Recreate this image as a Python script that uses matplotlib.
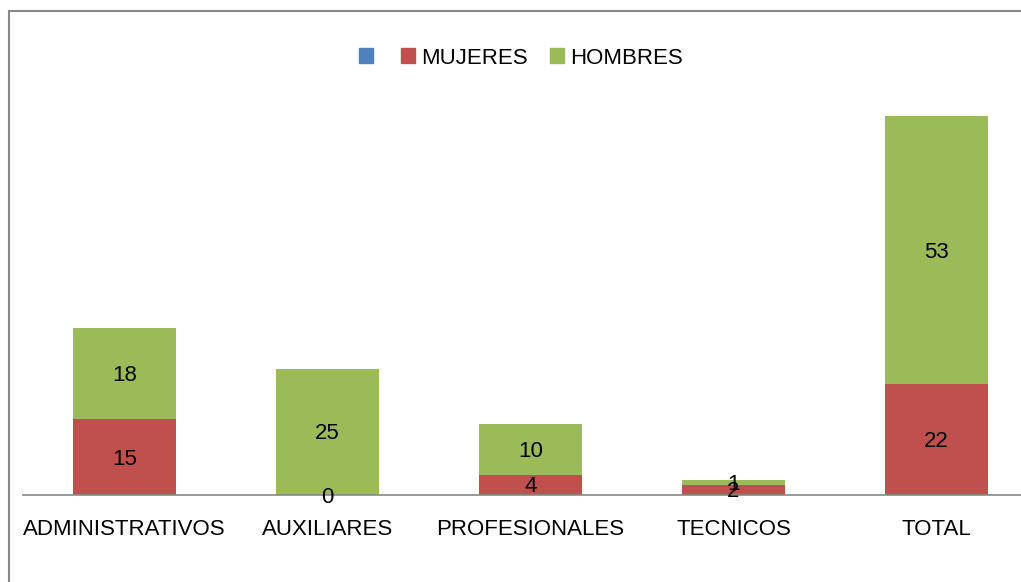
import matplotlib
matplotlib.use("Agg")
import matplotlib.pyplot as plt
from matplotlib.patches import Rectangle, Patch

categories = ["ADMINISTRATIVOS", "AUXILIARES", "PROFESIONALES", "TECNICOS", "TOTAL"]
mujeres = [15, 0, 4, 2, 22]
hombres = [18, 25, 10, 1, 53]

BLUE = "#4F81BD"
RED = "#C0504D"
GREEN = "#9BBB59"

plt.rcParams['font.family'] = ['Liberation Sans', 'DejaVu Sans']

fig = plt.figure(figsize=(10.21, 5.82), dpi=100)
ax = fig.add_axes([23/1021, 1 - 495/582, 1015/1021, 404/582])

x = list(range(len(categories)))
w = 0.51
ax.bar(x, mujeres, w, color=RED, label="MUJERES")
ax.bar(x, hombres, w, bottom=mujeres, color=GREEN, label="HOMBRES")

for i in x:
    ax.text(i, mujeres[i] / 2 - 0.4, str(mujeres[i]), ha="center", va="center", fontsize=16)
    ax.text(i, mujeres[i] + hombres[i] / 2 - 0.4, str(hombres[i]), ha="center", va="center", fontsize=16)

ax.set_xlim(-0.5, len(categories) - 0.5)
ax.set_ylim(0, 80)
ax.set_xticks(x)
ax.set_xticklabels(categories, fontsize=16)
ax.tick_params(axis="x", length=0, pad=17)
ax.set_yticks([])
for s in ["top", "right", "left"]:
    ax.spines[s].set_visible(False)
ax.spines["bottom"].set_color("#888888")
ax.spines["bottom"].set_linewidth(1.2)

handles = [Patch(color=BLUE), Patch(color=RED), Patch(color=GREEN)]
labels = ["", "MUJERES", "HOMBRES"]
fig.legend(handles, labels, loc="center", bbox_to_anchor=(521/1021, 1 - 58/582),
           ncol=3, frameon=False, fontsize=16, handlelength=0.63, handleheight=0.63,
           handletextpad=0.27, columnspacing=1.0)

fig.add_artist(Rectangle((9/1021, -0.1), 1.2, (582 - 11)/582 + 0.1, transform=fig.transFigure,
                         fill=False, edgecolor="#888888", linewidth=1.5))

fig.savefig("out.png", dpi=100)
